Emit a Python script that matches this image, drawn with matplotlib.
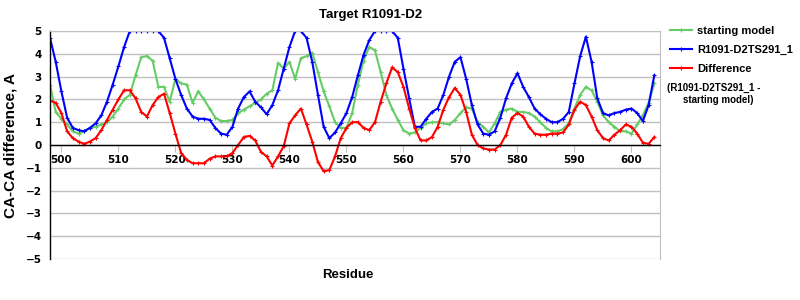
import matplotlib
matplotlib.use("Agg")
import matplotlib.pyplot as plt
import numpy as np

plt.rcParams['font.family'] = ['Liberation Sans', 'DejaVu Sans']
plt.rcParams['axes.unicode_minus'] = True

residues = np.arange(498, 605)

# R1091-D2TS291_1 (capped at 5 by the axis)
model = [4.7, 3.65,
         2.35, 1.2, 0.75, 0.65, 0.6, 0.75, 0.95, 1.3, 1.9, 2.65,
         3.45, 4.3, 5, 5, 5, 5, 5, 5, 4.7, 3.8,
         2.9, 2.2, 1.6, 1.25, 1.15, 1.15, 1.1, 0.75, 0.5, 0.45,
         0.8, 1.6, 2.1, 2.35, 1.9, 1.65, 1.35, 1.75, 2.4, 3.35,
         4.3, 5, 5, 4.7, 3.65, 2.2, 0.8, 0.3, 0.55, 0.95,
         1.4, 2.1, 3.05, 3.95, 4.6, 5, 5, 5, 5, 4.7,
         3.35, 2.05, 0.8, 0.8, 1.15, 1.45, 1.6, 2.2, 3.0, 3.65,
         3.85, 2.9, 1.75, 0.9, 0.5, 0.45, 0.6, 1.2, 2.05, 2.7,
         3.15, 2.55, 2.1, 1.6, 1.35, 1.15, 1.0, 1.0, 1.15, 1.45,
         2.7, 3.9, 4.75, 3.65, 2.05, 1.4, 1.3, 1.4, 1.45, 1.55,
         1.6, 1.4, 1.05, 1.75, 3.05]

starting = [2.65, 1.45,
            1.15, 0.9, 0.6, 0.5, 0.6, 0.75, 0.8, 0.9, 1.0, 1.25,
            1.6, 2.0, 2.2, 3.05, 3.85, 3.9, 3.7, 2.55, 2.55, 1.9,
            2.9, 2.7, 2.65, 1.85, 2.35, 2.0, 1.6, 1.2, 1.05, 1.05,
            1.1, 1.4, 1.55, 1.7, 1.85, 2.0, 2.25, 2.4, 3.6, 3.35,
            3.65, 2.9, 3.8, 3.9, 4.05, 3.2, 2.35, 1.7, 1.0, 0.75,
            0.75, 1.4, 2.65, 3.7, 4.3, 4.15, 3.2, 2.2, 1.6, 1.1,
            0.65, 0.5, 0.55, 0.75, 0.95, 1.0, 1.0, 0.95, 0.9, 1.1,
            1.4, 1.65, 1.6, 1.0, 0.8, 0.55, 0.95, 1.45, 1.55, 1.6,
            1.45, 1.45, 1.4, 1.25, 1.0, 0.75, 0.6, 0.6, 0.7, 0.95,
            1.6, 2.2, 2.55, 2.4, 1.9, 1.3, 1.0, 0.8, 0.6, 0.6,
            0.5, 0.9, 1.3, 1.85, 2.7]

difference = [1.95, 1.85,
              1.4, 0.6, 0.3, 0.15, 0.05, 0.15, 0.3, 0.65, 1.1, 1.55,
              2.0, 2.4, 2.4, 2.05, 1.45, 1.25, 1.75, 2.1, 2.25, 1.4,
              0.5, -0.35, -0.65, -0.8, -0.8, -0.8, -0.6, -0.5, -0.5, -0.5,
              -0.35, 0.0, 0.35, 0.4, 0.2, -0.3, -0.5, -0.9, -0.5, -0.05,
              0.95, 1.3, 1.6, 0.9, 0.15, -0.75, -1.15, -1.1, -0.5, 0.3,
              0.75, 1.0, 1.0, 0.75, 0.65, 1.0, 1.9, 2.7, 3.4, 3.2,
              2.55, 1.6, 0.75, 0.2, 0.2, 0.35, 0.8, 1.55, 2.1, 2.5,
              2.2, 1.45, 0.45, 0.0, -0.15, -0.2, -0.2, 0.0, 0.45, 1.2,
              1.4, 1.25, 0.8, 0.5, 0.45, 0.45, 0.5, 0.5, 0.55, 0.9,
              1.55, 1.9, 1.75, 1.25, 0.65, 0.3, 0.2, 0.45, 0.65, 0.9,
              0.8, 0.5, 0.1, 0.05, 0.35]

fig = plt.figure(figsize=(8, 3), dpi=100)
ax = fig.add_axes([50 / 800, 1 - 259 / 300, 610 / 800, 228 / 300])

style = dict(lw=1.5, marker='+', ms=3, mew=0.8)
ax.plot(residues, starting, color='#66cc66', label='starting model', **style)
ax.plot(residues, model, color='#0000ff', label='R1091-D2TS291_1', **style)
ax.plot(residues, difference, color='#ff0000', label='Difference', **style)

ax.set_xlim(498, 605)
ax.set_ylim(-5, 5)
ax.set_xticks(np.arange(500, 601, 10))
ax.set_yticks(np.arange(-5, 6, 1))
ax.grid(axis='y', color='#c0c0c0', lw=1)
ax.set_axisbelow(True)

ax.spines['bottom'].set_position(('data', 0))
ax.spines['bottom'].set_color('black')
ax.spines['bottom'].set_linewidth(1)
ax.spines['left'].set_color('black')
ax.spines['left'].set_linewidth(1)
ax.spines['top'].set_color('#c0c0c0')
ax.spines['right'].set_color('#c0c0c0')

ax.tick_params(axis='x', direction='out', length=5, color='#c0c0c0', pad=2)
ax.tick_params(axis='y', length=0, pad=6)
for lab in ax.get_xticklabels() + ax.get_yticklabels():
    lab.set_family('DejaVu Sans')
    lab.set_fontweight('bold')
    lab.set_fontsize(7.5)

ax.set_ylabel('CA-CA difference, A', fontsize=11, fontweight='bold')
ax.yaxis.set_label_coords(-0.054, 0.5)
ax.set_xlabel('Residue', fontsize=9.5, fontweight='bold')
ax.xaxis.set_label_coords(0.489, -0.045)

fig.text(371 / 800, 1 - 15 / 300, 'Target R1091-D2', ha='center', va='center',
         fontsize=9.5, fontweight='bold')

leg = ax.legend(loc='upper left', bbox_to_anchor=(670 / 800, 1 - 26 / 300),
                bbox_transform=fig.transFigure, frameon=False, borderpad=0,
                borderaxespad=0, handlelength=2.0, handletextpad=0.45,
                labelspacing=0.8, prop={'weight': 'bold', 'size': 8})
fig.text(667 / 800, 1 - 88 / 300, '(R1091-D2TS291_1 -', ha='left', va='center',
         fontsize=7, fontweight='bold')
fig.text(683 / 800, 1 - 100 / 300, 'starting model)', ha='left', va='center',
         fontsize=7, fontweight='bold')

fig.savefig('out.png', dpi=100)
